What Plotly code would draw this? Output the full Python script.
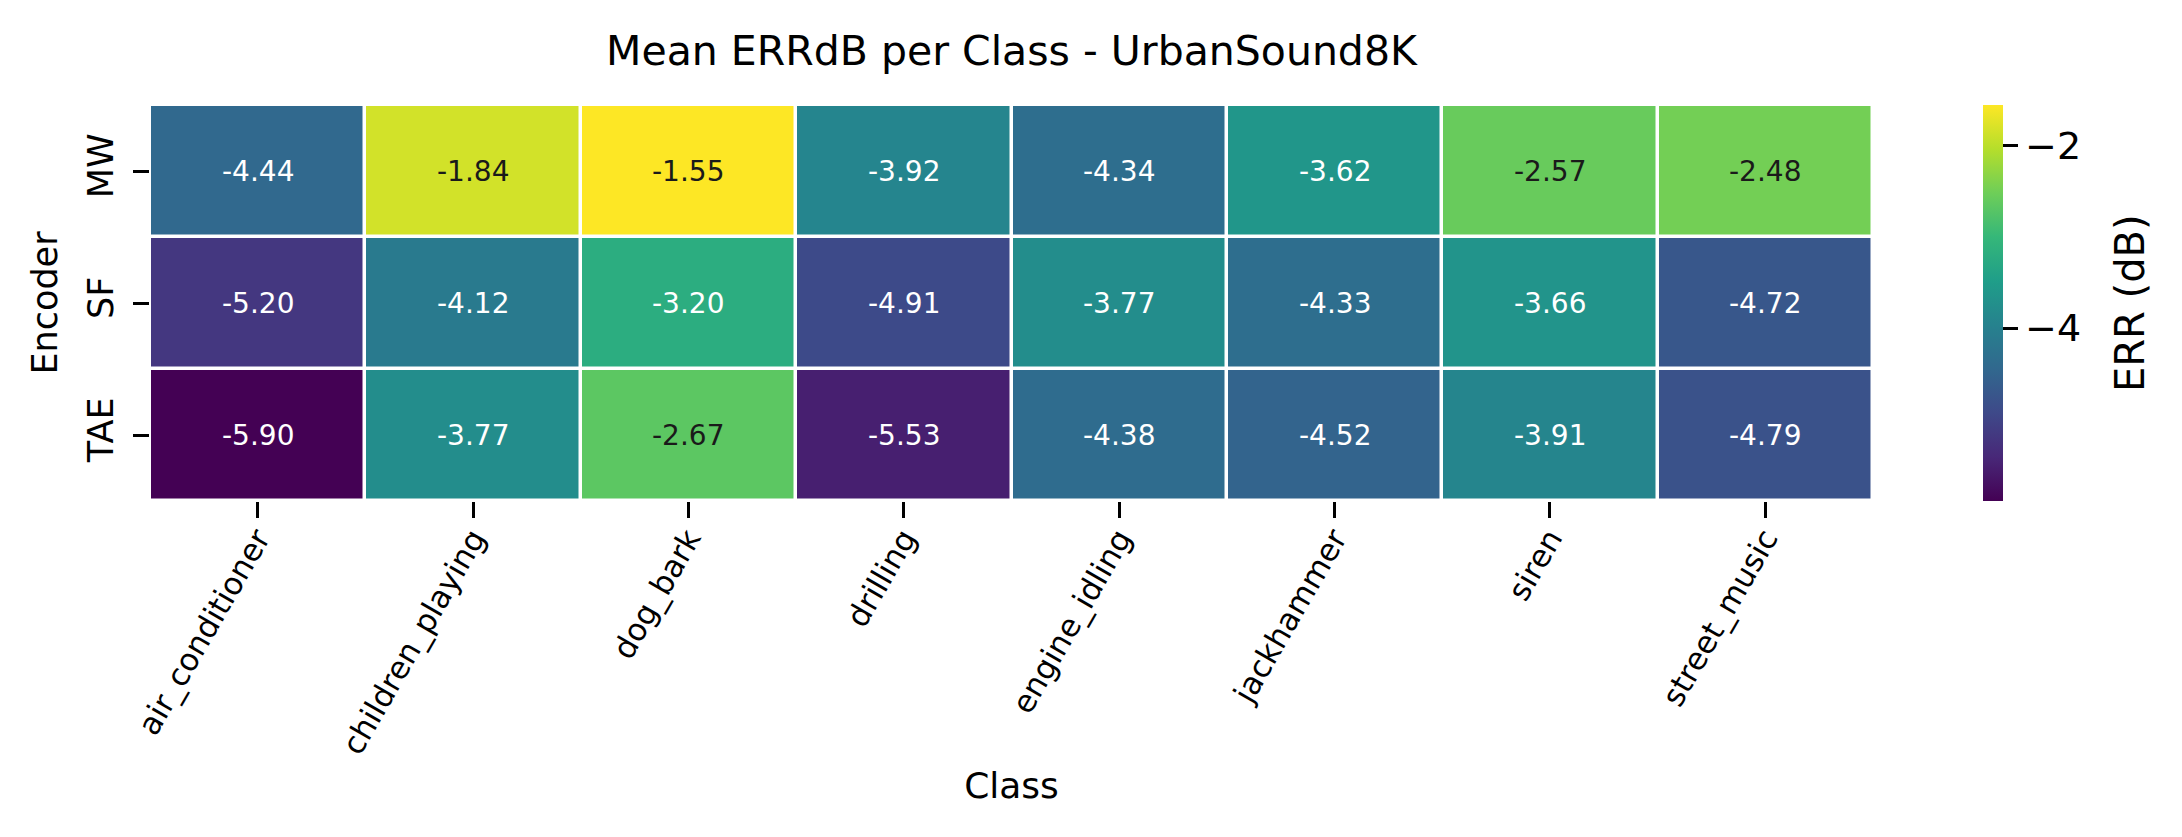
import plotly.graph_objects as go
from plotly.colors import sample_colorscale, unlabel_rgb

classes = ["air_conditioner", "children_playing", "dog_bark", "drilling",
           "engine_idling", "jackhammer", "siren", "street_music"]
encoders = ["MW", "SF", "TAE"]
mw_vals = [-4.44, -1.84, -1.55, -3.92, -4.34, -3.62, -2.57, -2.48]
sf_vals = [-5.20, -4.12, -3.20, -4.91, -3.77, -4.33, -3.66, -4.72]
tae_vals = [-5.90, -3.77, -2.67, -5.53, -4.38, -4.52, -3.91, -4.79]
cbar_tickvals = [-2, -4]
cbar_ticktext = ["\u22122", "\u22124"]

z = [mw_vals, sf_vals, tae_vals]
zmin = min(min(r) for r in z)
zmax = max(max(r) for r in z)

FONT = "DejaVu Sans"
W, H = 2182, 837
L, R, T, B = 150, 309, 105, 336
PW = W - L - R

fig = go.Figure()
fig.add_trace(go.Heatmap(
    z=z, x=classes, y=encoders,
    colorscale="Viridis", zmin=zmin, zmax=zmax,
    xgap=3.5, ygap=3.5,
    hoverongaps=False,
    colorbar=dict(
        x=(1983 - 10 - L) / PW, xanchor="left", xref="paper", xpad=10,
        y=0.5, yanchor="middle", len=1.0, lenmode="fraction", ypad=0,
        thickness=20, outlinewidth=0,
        tickmode="array", tickvals=cbar_tickvals, ticktext=cbar_ticktext,
        ticks="outside", ticklen=15, tickwidth=2.5, tickcolor="black",
        tickfont=dict(family=FONT, size=38, color="black"),
    ),
))


def rel_lum(rgb):
    out = []
    for c in rgb:
        c = c / 255.0
        out.append(c / 12.92 if c <= 0.03928 else ((c + 0.055) / 1.055) ** 2.4)
    return 0.2126 * out[0] + 0.7152 * out[1] + 0.0722 * out[2]


for yi, enc in enumerate(encoders):
    for xi, cls in enumerate(classes):
        v = z[yi][xi]
        frac = (v - zmin) / (zmax - zmin)
        col = sample_colorscale("Viridis", [frac])[0]
        rgb = unlabel_rgb(col)
        tcol = "#1a1a1a" if rel_lum(rgb) > 0.408 else "white"
        fig.add_annotation(x=cls, y=enc, text=f"{v:.2f}", showarrow=False,
                           font=dict(family=FONT, size=28, color=tcol))

# colorbar label
fig.add_annotation(x=(2130 - L) / PW, y=0.5, xref="paper", yref="paper",
                   text="ERR (dB)", textangle=-90, showarrow=False,
                   xanchor="center", yanchor="middle",
                   font=dict(family=FONT, size=40, color="black"))

fig.update_layout(
    width=W, height=H,
    margin=dict(l=L, r=R, t=T, b=B, autoexpand=False),
    paper_bgcolor="white", plot_bgcolor="white",
    font=dict(family=FONT, color="black"),
    title=dict(text="Mean ERRdB per Class - UrbanSound8K",
               x=(L + PW / 2) / W, xanchor="center",
               y=1 - 51 / H, yanchor="middle", yref="container",
               font=dict(family=FONT, size=41, color="black")),
    showlegend=False,
)
fig.update_xaxes(
    type="category", tickangle=-60,
    ticks="outside", ticklen=16, tickwidth=2.5, tickcolor="black",
    tickfont=dict(family=FONT, size=31, color="black"),
    ticklabelstandoff=-10,
    showgrid=False, zeroline=False, showline=False,
    title=dict(text="Class", font=dict(family=FONT, size=36, color="black"),
               standoff=13),
    automargin=False,
)
fig.update_yaxes(
    type="category", autorange="reversed", tickangle=-90,
    ticks="outside", ticklen=16, tickwidth=2.5, tickcolor="black",
    tickfont=dict(family=FONT, size=35, color="black"),
    ticklabelstandoff=6,
    showgrid=False, zeroline=False, showline=False,
    title=dict(text="Encoder", font=dict(family=FONT, size=35, color="black"),
               standoff=12),
    automargin=False,
)

fig.write_html("out.html",
               config={"displayModeBar": False},
               post_script="document.body.style.margin='0';")
